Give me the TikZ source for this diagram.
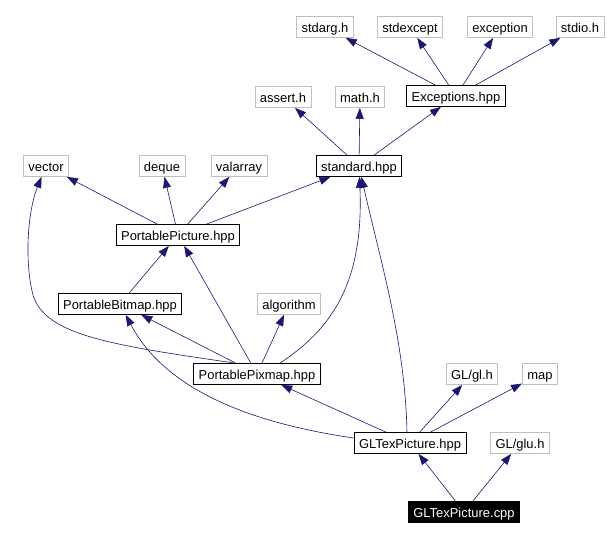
\documentclass[tikz,border=0pt]{standalone}
\usepackage{fontspec}
\setmainfont{Liberation Sans}
\usepackage{tikz}
\usetikzlibrary{arrows.meta}
\definecolor{edgeblue}{RGB}{25,25,112}
\definecolor{sysgray}{RGB}{191,191,191}

\begin{document}
\begin{tikzpicture}[x=1bp, y=1bp,
    file/.style={draw=black, line width=0.8bp, inner xsep=5bp, inner ysep=0pt,
      text height=12bp, text depth=1bp, minimum height=21bp,
      font=\fontsize{13}{15}\selectfont},
    sys/.style={file, draw=sysgray},
    root/.style={file, fill=black, text=white},
    dep/.style={draw=edgeblue, line width=0.6bp, -{Triangle[length=11bp, width=8bp]}}]
  \fill[white] (0,0) rectangle (607,540);
  \useasboundingbox (0,0) rectangle (607,540);

  \node[sys] (stdarg) at (325, 513) {stdarg.h};
  \node[sys] (stdexcept) at (410, 513) {stdexcept};
  \node[sys] (exceptionh) at (500, 513) {exception};
  \node[sys] (stdio) at (580, 513) {stdio.h};
  \node[file] (exceptions) at (456, 444) {Exceptions.hpp};
  \node[sys] (assert) at (283, 443) {assert.h};
  \node[sys] (mathh) at (360, 443) {math.h};
  \node[file] (standard) at (359, 374) {standard.hpp};
  \node[sys] (vector) at (46, 374) {vector};
  \node[sys] (deque) at (162, 374) {deque};
  \node[sys] (valarray) at (239, 374) {valarray};
  \node[file] (picture) at (178, 305) {PortablePicture.hpp};
  \node[file] (bitmap) at (120, 236) {PortableBitmap.hpp};
  \node[sys] (algorithm) at (289, 236) {algorithm};
  \node[file] (pixmap) at (257, 166) {PortablePixmap.hpp};
  \node[sys] (glh) at (472, 166) {GL/gl.h};
  \node[sys] (map) at (540, 166) {map};
  \node[file] (texhpp) at (410, 97) {GLTexPicture.hpp};
  \node[sys] (gluh) at (520, 97) {GL/glu.h};
  \node[root] (texcpp) at (464, 28) {GLTexPicture.cpp};

  \draw[dep] (exceptions) -- (stdarg);
  \draw[dep] (exceptions) -- (stdexcept);
  \draw[dep] (exceptions) -- (exceptionh);
  \draw[dep] (exceptions) -- (stdio);
  \draw[dep] (standard) -- (assert);
  \draw[dep] (standard) -- (mathh);
  \draw[dep] (standard) -- (exceptions);
  \draw[dep] (picture) -- (vector);
  \draw[dep] (picture) -- (deque);
  \draw[dep] (picture) -- (valarray);
  \draw[dep] (picture) -- (standard);
  \draw[dep] (bitmap) -- (picture);
  \draw[dep] (pixmap) -- (picture);
  \draw[dep] (pixmap) -- (bitmap);
  \draw[dep] (pixmap) -- (algorithm);
  \draw[dep] ([xshift=23bp]pixmap.north) .. controls (330,210) and (364,255) .. (standard);
  \draw[dep] ([xshift=-22bp]pixmap.north) .. controls (110,195) and (45,205) .. (33,245)
    .. controls (24,280) and (28,330) .. (vector);
  \draw[dep] (texhpp) -- (pixmap);
  \draw[dep] ([yshift=5bp]texhpp.west) .. controls (230,120) and (160,160) .. (bitmap);
  \draw[dep] ([xshift=-3bp]texhpp.north) .. controls (405,200) and (380,280) .. (standard);
  \draw[dep] (texhpp) -- (glh);
  \draw[dep] (texhpp) -- (map);
  \draw[dep] (texcpp) -- (texhpp);
  \draw[dep] (texcpp) -- (gluh);
\end{tikzpicture}
\end{document}
